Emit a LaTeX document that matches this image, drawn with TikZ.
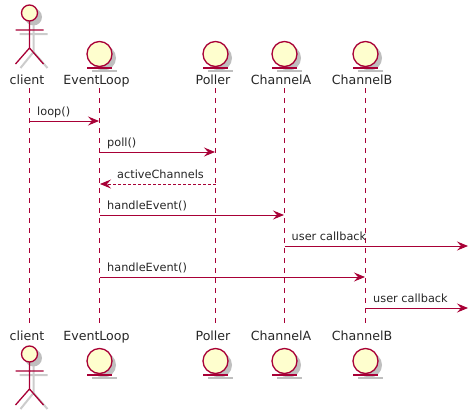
\documentclass[tikz,border=0pt]{standalone}
\usepackage{fontspec}
\setmainfont{DejaVu Sans}
\usetikzlibrary{arrows.meta}
\definecolor{umlred}{HTML}{A80036}
\definecolor{umlfill}{HTML}{FEFECE}
\tikzset{
  lifeline/.style={draw=umlred,line width=1pt,dash pattern=on 5pt off 5pt},
  msg/.style={draw=umlred,line width=0.9pt,-{Stealth[length=11pt,width=9pt,inset=4pt,fill=umlred]}},
  reply/.style={msg,dash pattern=on 2.5pt off 2.5pt},
  mlabel/.style={font=\fontsize{11.3}{13}\selectfont,text=black!85,inner sep=0pt,anchor=base west},
  plabel/.style={font=\fontsize{12.6}{15}\selectfont,text=black!85,inner sep=0pt,anchor=base},
  figure/.style={draw=umlred,line width=1.3pt,fill=umlfill},
  shadowline/.style={draw=black!20,line width=2pt},
  shadowfill/.style={fill=black!25}
}
\newcommand{\actorfig}[2]{%
  \begin{scope}[shift={(#1,#2)}]
    \fill[shadowfill] (4,4) circle (8.5);
    \draw[shadowline] (4,12) -- (4,39) (-10,21) -- (18,21) (4,39) -- (-9,55) (4,39) -- (18,55);
    \draw[figure] (0,0) circle (8);
    \draw[umlred,line width=1.3pt] (0,8) -- (0,35) (-14,17) -- (14,17) (0,35) -- (-14,51) (0,35) -- (14,51);
  \end{scope}}
\newcommand{\entityfig}[2]{%
  \begin{scope}[shift={(#1,#2)}]
    \fill[shadowfill] (4,4) circle (12.5);
    \fill[shadowfill] (-8,16) rectangle (17,18);
    \draw[figure] (0,0) circle (12.5);
    \draw[umlred,line width=1.3pt] (-12.5,14) -- (12.5,14);
  \end{scope}}
\begin{document}
\begin{tikzpicture}[x=1pt,y=-1pt]
\useasboundingbox (0,0) rectangle (473,415);
% figures
\actorfig{29.5}{13}
\actorfig{29.5}{354}
\foreach \x in {99.5,215.5,284.5,365.5}{
  \entityfig{\x}{54}
  \entityfig{\x}{361}
}
% lifelines
\coordinate (ctop) at (29.5,88);   \coordinate (cbot) at (29.5,326);
\coordinate (etop) at (99.5,88);   \coordinate (ebot) at (99.5,326);
\coordinate (ptop) at (215.5,88);  \coordinate (pbot) at (215.5,326);
\coordinate (atop) at (284.5,88);  \coordinate (abot) at (284.5,326);
\coordinate (btop) at (365.5,88);  \coordinate (bbot) at (365.5,326);
\draw[lifeline] (ctop) -- (cbot) (etop) -- (ebot) (ptop) -- (pbot) (atop) -- (abot) (btop) -- (bbot);
% participant labels
\node[plabel] (ct) at (27,84) {client};
\node[plabel] (et) at (96.5,84) {EventLoop};
\node[plabel] (pt) at (213,84) {Poller};
\node[plabel] (at) at (281,84) {ChannelA};
\node[plabel] (bt) at (362,84) {ChannelB};
\node[plabel] (cb) at (27,340) {client};
\node[plabel] (eb) at (96.5,340) {EventLoop};
\node[plabel] (pb) at (213,340) {Poller};
\node[plabel] (ab) at (281,340) {ChannelA};
\node[plabel] (bb) at (362,340) {ChannelB};
% message end points
\coordinate (m1a) at (29.5,121);   \coordinate (m1b) at (99,121);
\coordinate (m2a) at (99.5,152);   \coordinate (m2b) at (215,152);
\coordinate (m3a) at (215.5,184);  \coordinate (m3b) at (100,184);
\coordinate (m4a) at (99.5,215);   \coordinate (m4b) at (284,215);
\coordinate (m5a) at (284.5,246);  \coordinate (m5b) at (468,246);
\coordinate (m6a) at (99.5,277);   \coordinate (m6b) at (365,277);
\coordinate (m7a) at (365.5,308);  \coordinate (m7b) at (468,308);
\draw[msg] (m1a) -- (m1b);
\draw[msg] (m2a) -- (m2b);
\draw[reply] (m3a) -- (m3b);
\draw[msg] (m4a) -- (m4b);
\draw[msg] (m5a) -- (m5b);
\draw[msg] (m6a) -- (m6b);
\draw[msg] (m7a) -- (m7b);
% message labels
\node[mlabel] (l1) at (37,115) {loop()};
\node[mlabel] (l2) at (107,146) {poll()};
\node[mlabel] (l3) at (117,178) {activeChannels};
\node[mlabel] (l4) at (107,209) {handleEvent()};
\node[mlabel] (l5) at (291.5,240) {user callback};
\node[mlabel] (l6) at (107,271) {handleEvent()};
\node[mlabel] (l7) at (373,302) {user callback};
\end{tikzpicture}
\end{document}
